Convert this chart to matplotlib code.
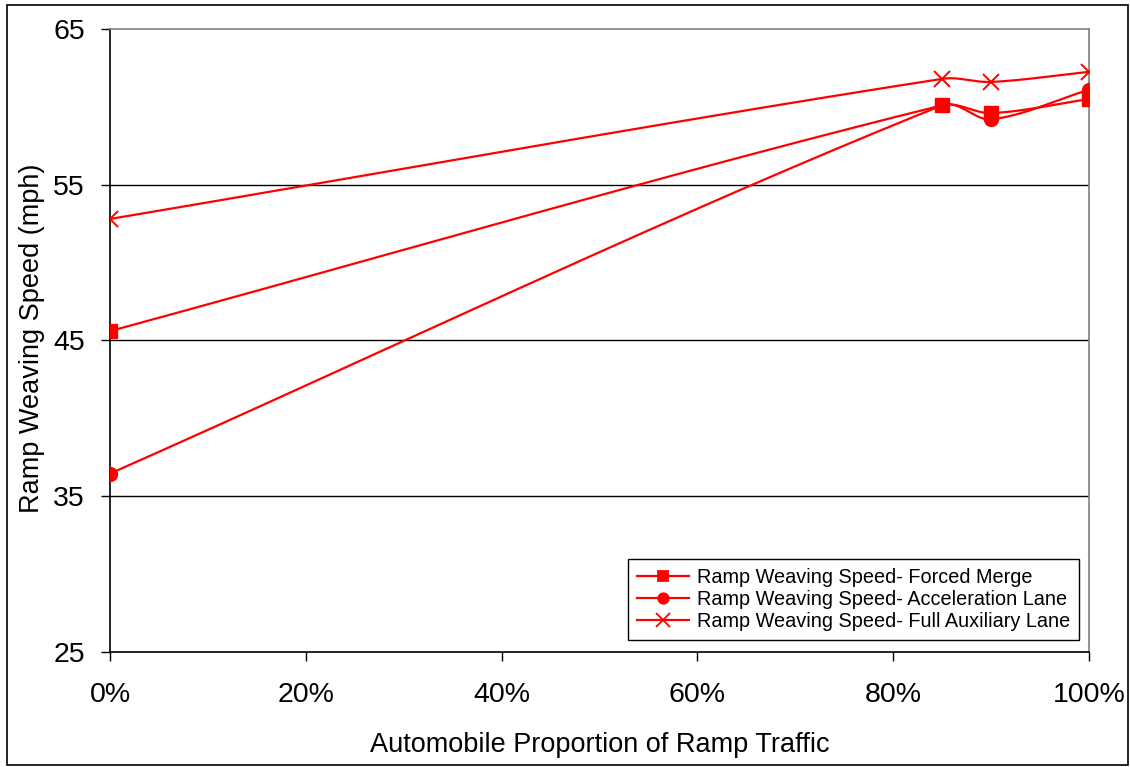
import numpy as np
import matplotlib
matplotlib.use("Agg")
import matplotlib.pyplot as plt
from matplotlib.patches import Rectangle
from matplotlib.ticker import PercentFormatter

plt.rcParams['font.family'] = ['Liberation Sans', 'DejaVu Sans']

# data
auto_share = [0.0, 0.85, 0.90, 1.00]
forced_merge = [45.6, 60.1, 59.6, 60.5]
accel_lane = [36.45, 60.1, 59.2, 61.1]
full_aux = [52.8, 61.8, 61.6, 62.25]

labels = ["Ramp Weaving Speed- Forced Merge",
          "Ramp Weaving Speed- Acceleration Lane",
          "Ramp Weaving Speed- Full Auxiliary Lane"]
markers = ["s", "o", "x"]


def smooth(x, y, n=60):
    # Excel-like smoothed line: cubic Hermite with finite-difference tangents
    x = np.asarray(x, float)
    y = np.asarray(y, float)
    m = np.zeros_like(y)
    m[0] = (y[1] - y[0]) / (x[1] - x[0])
    m[-1] = (y[-1] - y[-2]) / (x[-1] - x[-2])
    for i in range(1, len(x) - 1):
        m[i] = (y[i + 1] - y[i - 1]) / (x[i + 1] - x[i - 1])
    xs, ys = [], []
    for i in range(len(x) - 1):
        h = x[i + 1] - x[i]
        t = np.linspace(0, 1, n)
        h00 = 2 * t**3 - 3 * t**2 + 1
        h10 = t**3 - 2 * t**2 + t
        h01 = -2 * t**3 + 3 * t**2
        h11 = t**3 - t**2
        xs.append(x[i] + t * h)
        ys.append(h00 * y[i] + h10 * h * m[i] + h01 * y[i + 1] + h11 * h * m[i + 1])
    return np.concatenate(xs), np.concatenate(ys)


fig = plt.figure(figsize=(11.3, 7.67), dpi=100)
ax = fig.add_axes([0.0973, 0.150, 0.8664, 0.8122])

for series, lab, mk in zip([forced_merge, accel_lane, full_aux], labels, markers):
    sx, sy = smooth(auto_share, series)
    ax.plot(sx, sy, color="#ff0000", lw=1.6, zorder=3)
    ms = 10 if mk != "x" else 12
    ax.plot(auto_share, series, linestyle="none", marker=mk, color="#ff0000",
            markersize=ms, markeredgewidth=1.4 if mk == "x" else 1, zorder=4)
    # legend proxy
    ax.plot([], [], color="#ff0000", lw=1.6, marker=mk, markersize=7.5 if mk != "x" else 9.5,
            markeredgewidth=1.3, label=lab)

ax.set_xlim(0, 1)
ax.set_ylim(25, 65)
ax.set_xticks(np.arange(0, 1.01, 0.2))
ax.set_yticks([25, 35, 45, 55, 65])
ax.xaxis.set_major_formatter(PercentFormatter(1.0, decimals=0))
ax.tick_params(direction="out", length=6.5, width=1, labelsize=20.5, color="black")
ax.tick_params(axis="y", pad=11.5)
ax.tick_params(axis="x", pad=15)

for y in [35, 45, 55]:
    ax.axhline(y, color="black", lw=1, zorder=1)

ax.spines["left"].set_color("black")
ax.spines["bottom"].set_color("black")
ax.spines["top"].set_color("#808080")
ax.spines["right"].set_color("#808080")
for s in ax.spines.values():
    s.set_linewidth(1.2)

fig.text(600 / 1130, 1 - 752 / 767, "Automobile Proportion of Ramp Traffic",
         fontsize=19.5, ha="center", va="baseline")
fig.text(32 / 1130, 1 - 338 / 767, "Ramp Weaving Speed (mph)",
         fontsize=19.5, ha="center", va="center", rotation=90)

leg = ax.legend(loc="lower right", bbox_to_anchor=(0.9898, 0.0193), borderaxespad=0,
                fontsize=14.3, frameon=True, fancybox=False, edgecolor="black",
                framealpha=1, handlelength=2.6, labelspacing=0.15, borderpad=0.45,
                handletextpad=0.4)
leg.get_frame().set_linewidth(1)

fig.patches.append(Rectangle((0.006, 0.003), 0.992, 0.99, transform=fig.transFigure,
                             fill=False, edgecolor="black", lw=1.2))

fig.savefig("out.png", dpi=100)
